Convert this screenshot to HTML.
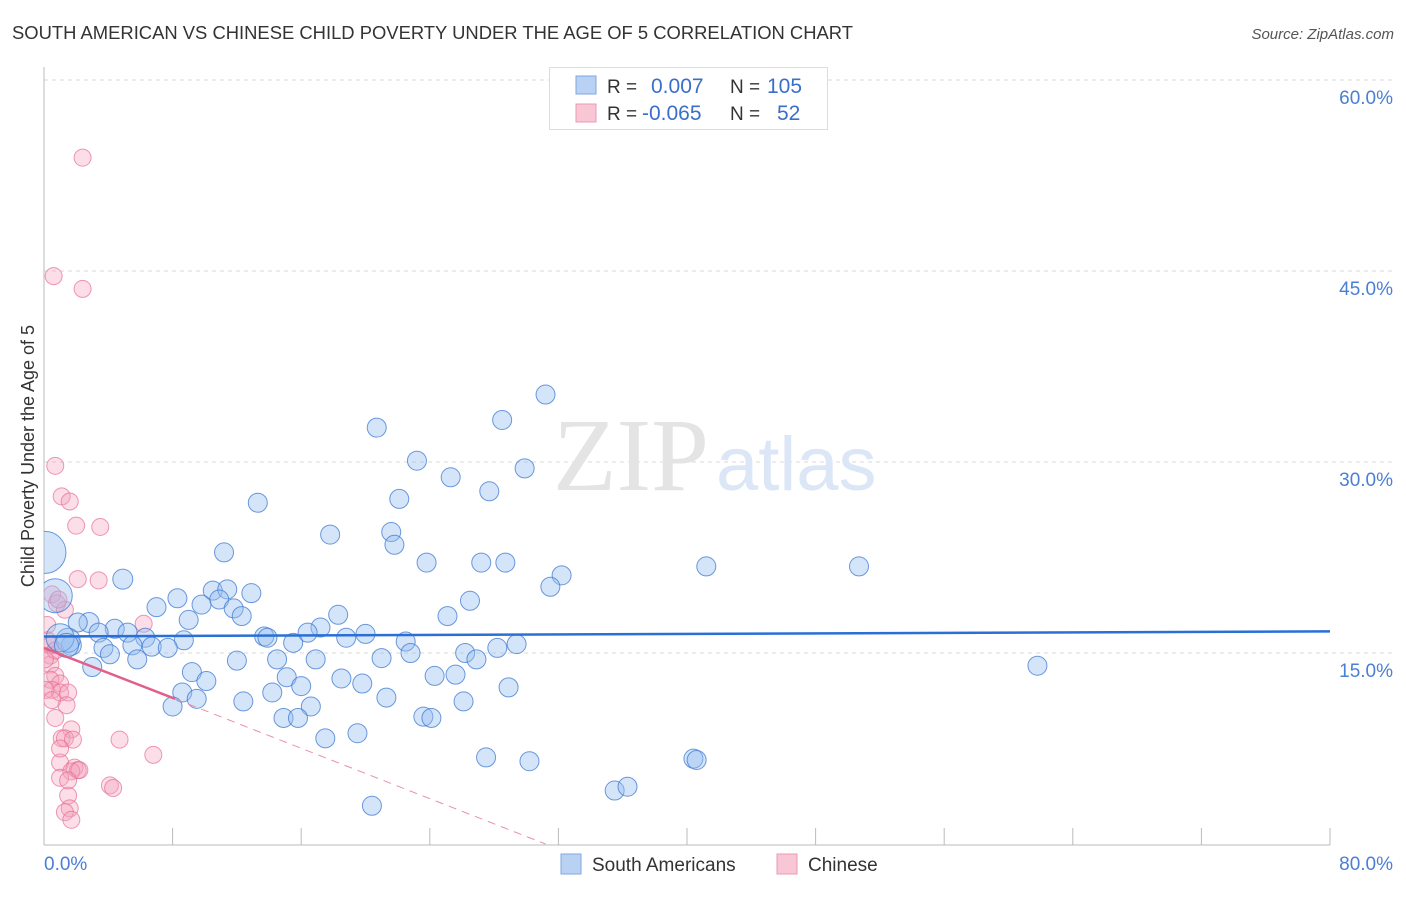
<!DOCTYPE html>
<html><head><meta charset="utf-8"><style>
body{margin:0;background:#fff;width:1406px;height:892px;overflow:hidden;font-family:"Liberation Sans",sans-serif}
</style></head><body>
<svg id="chart" width="1406" height="892" xmlns="http://www.w3.org/2000/svg" font-family="Liberation Sans, sans-serif">
<defs><clipPath id="plotclip"><rect x="44" y="60" width="1360" height="785"/></clipPath></defs>
<text x="12" y="39" font-size="18" fill="#333" textLength="841" lengthAdjust="spacingAndGlyphs">SOUTH AMERICAN VS CHINESE CHILD POVERTY UNDER THE AGE OF 5 CORRELATION CHART</text>
<text x="1394" y="39" font-size="15" fill="#555" font-style="italic" text-anchor="end">Source: ZipAtlas.com</text>
<text transform="translate(34,456) rotate(-90)" font-size="18" fill="#333" text-anchor="middle">Child Poverty Under the Age of 5</text>
<g id="grid"></g>
<g>
<text x="553" y="490" font-family="Liberation Serif, serif" font-size="104" fill="#e4e4e4">ZIP</text>
<text x="716" y="490" font-size="76" fill="#dbe6f6">atlas</text>
</g>
<g id="axes"></g>
<g id="pts" clip-path="url(#plotclip)"></g>
<g id="trends"></g>
<g>
<rect x="549.5" y="67.5" width="278" height="62" fill="#fff" stroke="#ddd"/>
<rect x="576" y="76" width="20" height="18" fill="#b9d1f3" stroke="#7fa6e0"/>
<rect x="576" y="104" width="20" height="18" fill="#f8c6d5" stroke="#eb9ab3"/>
<text x="607" y="93" font-size="19" fill="#333">R =</text>
<text x="651" y="93" font-size="21" fill="#3a6fc9">0.007</text>
<text x="730" y="93" font-size="19" fill="#333">N =</text>
<text x="767" y="93" font-size="21" fill="#3a6fc9">105</text>
<text x="607" y="120" font-size="19" fill="#333">R =</text>
<text x="642" y="120" font-size="21" fill="#3a6fc9">-0.065</text>
<text x="730" y="120" font-size="19" fill="#333">N =</text>
<text x="777" y="120" font-size="21" fill="#3a6fc9">52</text>
</g>
<g>
<rect x="561" y="854" width="20" height="20" fill="#b9d1f3" stroke="#7fa6e0"/>
<text x="592" y="871" font-size="19" fill="#333">South Americans</text>
<rect x="777" y="854" width="20" height="20" fill="#f8c6d5" stroke="#eb9ab3"/>
<text x="808" y="871" font-size="19" fill="#333">Chinese</text>
</g>
</svg>
<script>
const yTicks=[15,30,45,60];
const yTickLabels=["15.0%","30.0%","45.0%","60.0%"];
const xTicks=[0,8,16,24,32,40,48,56,64,72,80];
const blueX=[31.2,28.5,20.7,23.2,25.3,29.9,27.7,13.3,22.1,17.8,21.6,21.8,11.2,23.8,27.2,28.7,41.2,50.7,32.2,31.5,4.9,10.5,11.4,12.9,8.3,7.0,10.9,9.8,11.8,26.5,12.3,18.3,25.1,9.0,2.8,2.1,4.4,5.2,3.4,17.2,13.7,13.9,20.0,16.4,6.3,8.7,18.8,22.5,29.4,28.2,1.7,3.7,5.5,6.7,7.7,4.1,5.8,22.8,26.2,15.5,12.0,14.5,16.9,21.0,26.9,3.0,61.8,9.2,10.1,15.1,18.5,24.3,25.6,16.0,19.8,8.6,14.2,28.9,12.4,9.5,21.3,26.1,8.0,16.6,14.9,15.8,23.6,24.1,17.5,19.5,27.5,30.2,40.4,40.6,35.5,36.3,20.4,1.5,0.06,0.7,1.0,1.4];
const blueY=[35.3,33.3,32.7,30.1,28.8,29.5,27.7,26.8,27.1,24.3,24.5,23.5,22.9,22.1,22.1,22.1,21.8,21.8,21.1,20.2,20.8,19.9,20.0,19.7,19.3,18.6,19.2,18.8,18.5,19.1,17.9,18.0,17.9,17.6,17.4,17.4,16.9,16.6,16.6,17.0,16.3,16.2,16.5,16.6,16.2,16.0,16.2,15.9,15.7,15.4,15.6,15.4,15.6,15.5,15.4,14.9,14.5,15.0,15.0,15.8,14.4,14.5,14.5,14.6,14.5,13.9,14.0,13.5,12.8,13.1,13.0,13.2,13.3,12.4,12.6,11.9,11.9,12.3,11.2,11.4,11.5,11.2,10.8,10.8,9.9,9.9,10.0,9.9,8.3,8.7,6.8,6.5,6.7,6.6,4.2,4.5,3.0,16.0,22.9,19.5,16.2,15.6];
const blueR=[9.5,9.5,9.5,9.5,9.5,9.5,9.5,9.5,9.5,9.5,9.5,9.5,9.5,9.5,9.5,9.5,9.5,9.5,9.5,9.5,10,9.5,9.5,9.5,9.5,9.5,9.5,9.5,9.5,9.5,9.5,9.5,9.5,9.5,10,9.5,9.5,9.5,9.5,9.5,9.5,9.5,9.5,9.5,9.5,9.5,9.5,9.5,9.5,9.5,10,9.5,9.5,9.5,9.5,9.5,9.5,9.5,9.5,9.5,9.5,9.5,9.5,9.5,9.5,9.5,9.5,9.5,9.5,9.5,9.5,9.5,9.5,9.5,9.5,9.5,9.5,9.5,9.5,9.5,9.5,9.5,9.5,9.5,9.5,9.5,9.5,9.5,9.5,9.5,9.5,9.5,9.5,9.5,9.5,9.5,9.5,12,21,17,14,12];
const pinkX=[2.4,0.6,2.4,0.7,1.1,1.6,2.0,3.5,3.4,2.1,0.5,0.8,1.3,6.2,0.2,0.4,0.4,0.7,0.4,1.0,0.5,1.0,1.5,1.4,0.7,1.7,1.1,1.3,1.8,4.7,6.8,1.0,1.9,2.1,1.7,1.0,4.1,4.3,1.5,1.6,1.3,1.7,0.9,0.2,0.4,0.7,0.06,0.1,0.5,2.2,1.5,1.0];
const pinkY=[53.9,44.6,43.6,29.7,27.3,26.9,25.0,24.9,20.7,20.8,19.6,18.9,18.4,17.3,16.0,14.8,14.1,13.2,12.9,12.6,12.1,11.9,11.9,10.9,9.9,9.0,8.3,8.3,8.2,8.2,7.0,6.4,6.0,5.8,5.7,5.2,4.6,4.4,3.8,2.8,2.5,1.9,19.2,17.2,15.6,15.2,14.5,12.1,11.3,5.8,5.0,7.5];
const blueTrend=[0.0,16.3,80.0,16.7];
const pinkTrend=[0.0,15.4,8.15,11.4,31.2,0.0];

const X0=44,X1=1330,Y0=844,YPX=191/15;
function sx(v){return X0+v*(X1-X0)/80;}
function sy(v){return Y0-v*YPX;}
const NS="http://www.w3.org/2000/svg";
function mk(tag,attrs,parent){const e=document.createElementNS(NS,tag);for(const k in attrs)e.setAttribute(k,attrs[k]);parent.appendChild(e);return e;}
const grid=document.getElementById('grid'),axes=document.getElementById('axes'),pts=document.getElementById('pts'),tr=document.getElementById('trends');
yTicks.forEach((t,i)=>{
 const l=mk('line',{x1:X0,x2:1393,y1:sy(t),y2:sy(t),stroke:'#d8d8d8','stroke-dasharray':'4,4'},grid);
 
 
 const tx=mk('text',{x:1393,y:sy(t)+24,'font-size':19,fill:'#4a7fd4','text-anchor':'end'},axes);
 tx.textContent=yTickLabels[i];
 
 
});
mk('line',{x1:X0,x2:X0,y1:67,y2:845,stroke:'#bbb'},axes);
mk('line',{x1:X0,x2:X1,y1:845,y2:845,stroke:'#bbb'},axes);
xTicks.forEach(t=>{if(t>0){const l=mk('line',{x1:sx(t),x2:sx(t),y1:828,y2:845,stroke:'#bbb'},axes);
 
 }});
const xl=mk('text',{x:44,y:870,'font-size':19,fill:'#4a7fd4'},axes);xl.textContent='0.0%';


const xr=mk('text',{x:1393,y:870,'font-size':19,fill:'#4a7fd4','text-anchor':'end'},axes);xr.textContent='80.0%';


pinkX.forEach((x,i)=>{const c=mk('circle',{cx:sx(x),cy:sy(pinkY[i]),r:8.5,fill:'rgba(244,160,187,0.35)',stroke:'rgba(232,110,150,0.7)','stroke-width':1},pts);
 
 });
blueX.forEach((x,i)=>{const c=mk('circle',{cx:sx(x),cy:sy(blueY[i]),r:blueR[i],fill:'rgba(150,190,240,0.4)',stroke:'rgba(60,120,210,0.75)','stroke-width':1},pts);
 
 });
const bl=mk('line',{x1:sx(blueTrend[0]),y1:sy(blueTrend[1]),x2:sx(blueTrend[2]),y2:sy(blueTrend[3]),stroke:'#2a6fd6','stroke-width':2.5},tr);


const pl=mk('line',{x1:sx(pinkTrend[0]),y1:sy(pinkTrend[1]),x2:sx(pinkTrend[2]),y2:sy(pinkTrend[3]),stroke:'#e0608a','stroke-width':2.5},tr);


const pd=mk('line',{x1:sx(pinkTrend[2]),y1:sy(pinkTrend[3]),x2:sx(pinkTrend[4]),y2:sy(pinkTrend[5]),stroke:'#e890aa','stroke-width':1,'stroke-dasharray':'8,6'},tr);


</script>
</body></html>
